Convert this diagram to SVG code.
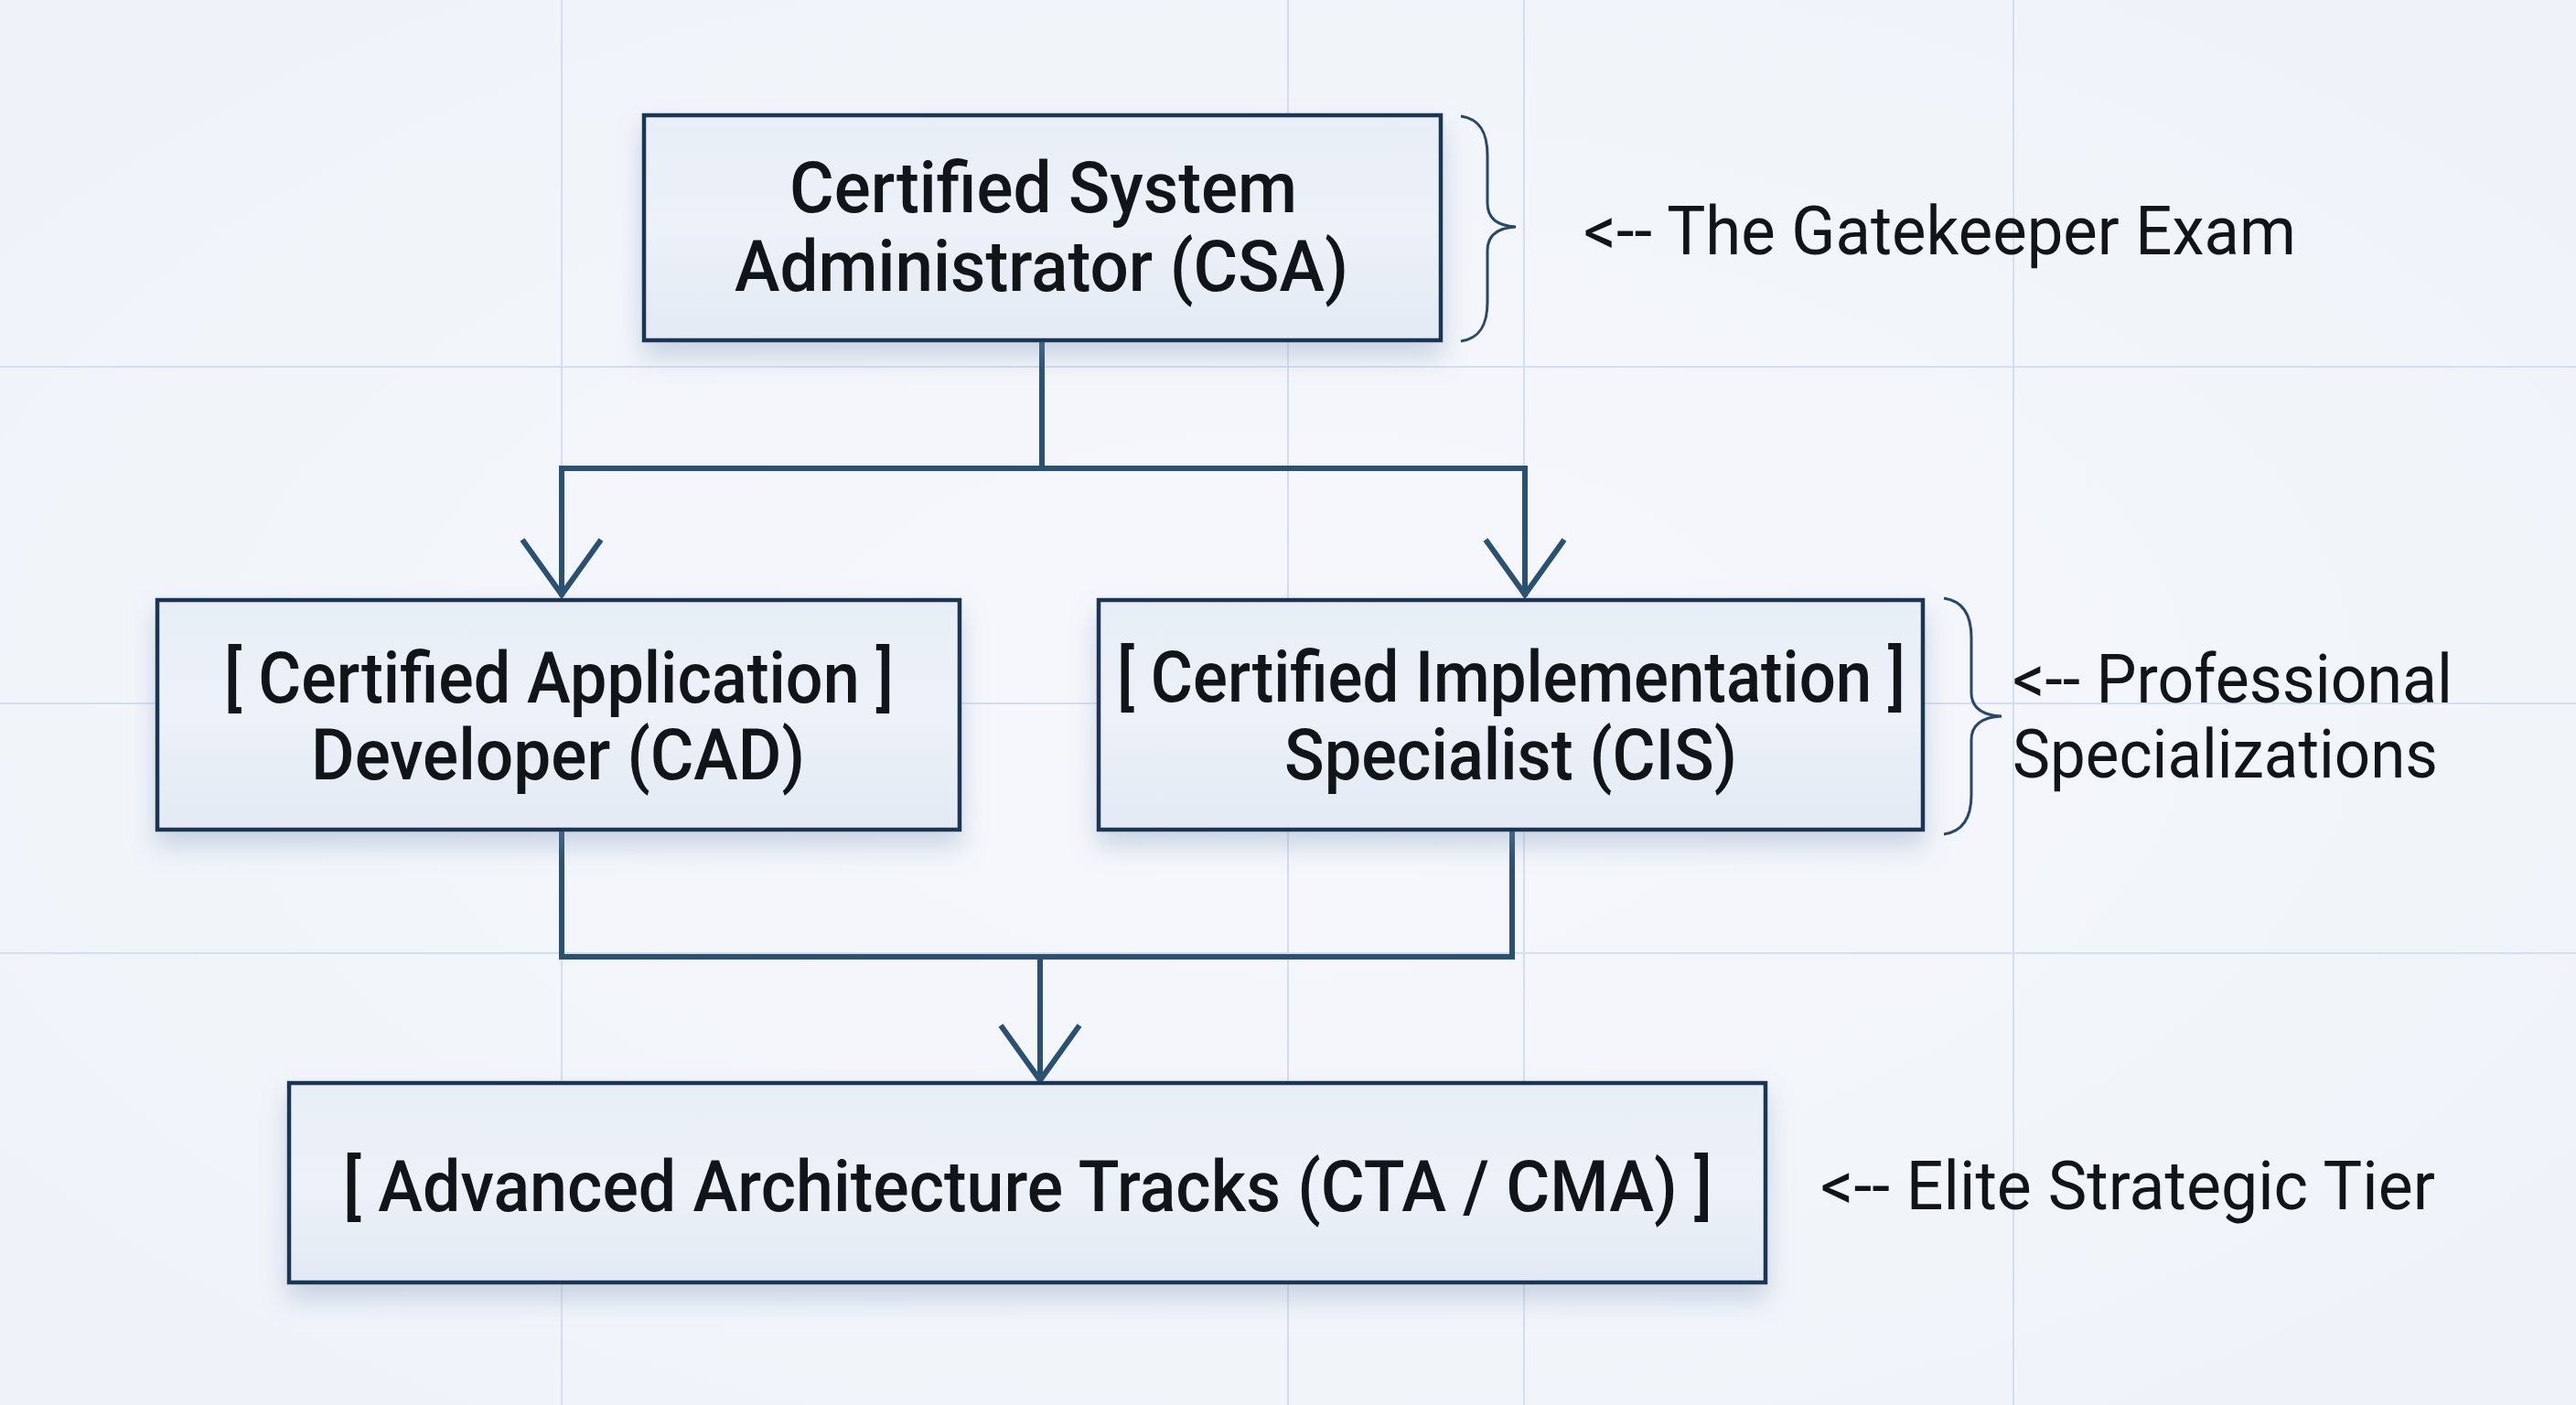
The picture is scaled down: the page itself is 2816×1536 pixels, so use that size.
<svg xmlns="http://www.w3.org/2000/svg" width="2816" height="1536" viewBox="0 0 2816 1536">
<defs>
<radialGradient id="bg" cx="50%" cy="50%" r="75%">
<stop offset="0" stop-color="#f6f8fc"/>
<stop offset="1" stop-color="#eef2f8"/>
</radialGradient>
<linearGradient id="boxfill" x1="0" y1="0" x2="0" y2="1">
<stop offset="0" stop-color="#e8eef7"/>
<stop offset="0.5" stop-color="#edf1f8"/>
<stop offset="1" stop-color="#e3eaf4"/>
</linearGradient>
<filter id="shadow" x="-10%" y="-20%" width="120%" height="160%">
<feDropShadow dx="0" dy="16" stdDeviation="14" flood-color="#7d93b8" flood-opacity="0.35"/>
</filter>
<marker id="arrow" viewBox="0 0 70 100" refX="66" refY="50" markerWidth="70" markerHeight="100" markerUnits="userSpaceOnUse" orient="auto" overflow="visible">
<polyline points="4,7 64,50 4,93" fill="none" stroke="#2b5070" stroke-width="6" stroke-linejoin="miter"/>
</marker>
<style>
.grid{stroke:#d5deed;stroke-width:2}
.box{fill:url(#boxfill);stroke:#1b3452;stroke-width:4.5;filter:url(#shadow)}
.conn{fill:none;stroke:#2b5070;stroke-width:6;stroke-linejoin:miter}
.brace{fill:none;stroke:#2a4767;stroke-width:3}
.node{font-family:Roboto,"Liberation Sans",sans-serif;font-weight:500;font-size:77px;fill:#111418}
.lbl{font-family:Roboto,"Liberation Sans",sans-serif;font-weight:400;font-size:75px;fill:#111418}
</style>
</defs>
<rect width="2816" height="1536" fill="url(#bg)"/>
<g id="grid">
<line class="grid" x1="614" y1="0" x2="614" y2="1536"/>
<line class="grid" x1="1408" y1="0" x2="1408" y2="1536"/>
<line class="grid" x1="1666" y1="0" x2="1666" y2="1536"/>
<line class="grid" x1="2201" y1="0" x2="2201" y2="1536"/>
<line class="grid" x1="0" y1="401" x2="2816" y2="401"/>
<line class="grid" x1="0" y1="769" x2="2816" y2="769"/>
<line class="grid" x1="0" y1="1042" x2="2816" y2="1042"/>
</g>
<g id="connectors">
<polyline class="conn" points="1139,372 1139,512 614,512 614,652" marker-end="url(#arrow)"/>
<polyline class="conn" points="1139,512 1667,512 1667,652" marker-end="url(#arrow)"/>
<polyline class="conn" points="614,908 614,1046 1137,1046 1137,1183" marker-end="url(#arrow)"/>
<polyline class="conn" points="1653,908 1653,1046 1137,1046"/>
</g>
<g id="csa">
<rect class="box" x="704" y="126" width="871" height="246"/>
<text class="node" x="863" y="232" textLength="555" lengthAdjust="spacingAndGlyphs">Certified System</text>
<text class="node" x="803" y="318" textLength="671" lengthAdjust="spacingAndGlyphs">Administrator (CSA)</text>
</g>
<g id="cad">
<rect class="box" x="172" y="656" width="877" height="251"/>
<text class="node" x="245" y="768" textLength="732" lengthAdjust="spacingAndGlyphs">[ Certified Application ]</text>
<text class="node" x="340" y="852" textLength="540" lengthAdjust="spacingAndGlyphs">Developer (CAD)</text>
</g>
<g id="cis">
<rect class="box" x="1201" y="656" width="901" height="251"/>
<text class="node" x="1221" y="767" textLength="862" lengthAdjust="spacingAndGlyphs">[ Certified Implementation ]</text>
<text class="node" x="1404" y="852" textLength="495" lengthAdjust="spacingAndGlyphs">Specialist (CIS)</text>
</g>
<g id="advanced">
<rect class="box" x="316" y="1184" width="1614" height="218"/>
<text class="node" x="375" y="1324" textLength="1497" lengthAdjust="spacingAndGlyphs">[ Advanced Architecture Tracks (CTA / CMA) ]</text>
</g>
<g id="label-gatekeeper">
<path class="brace" d="M1597,127 C1618,130 1626,145 1626,170 L1626,222 C1626,240 1638,247 1657,248 C1638,249 1626,256 1626,274 L1626,330 C1626,355 1618,370 1597,373"/>
<text class="lbl" x="1731" y="278" textLength="779" lengthAdjust="spacingAndGlyphs">&lt;-- The Gatekeeper Exam</text>
</g>
<g id="label-professional">
<path class="brace" d="M2125,654 C2146,657 2155,672 2155,697 L2155,757 C2155,775 2168,782 2188,783 C2168,784 2155,791 2155,809 L2155,869 C2155,894 2146,909 2125,912"/>
<text class="lbl" x="2200" y="768" textLength="481" lengthAdjust="spacingAndGlyphs">&lt;-- Professional</text>
<text class="lbl" x="2200" y="850" textLength="465" lengthAdjust="spacingAndGlyphs">Specializations</text>
</g>
<g id="label-elite">
<text class="lbl" x="1990" y="1322" textLength="672" lengthAdjust="spacingAndGlyphs">&lt;-- Elite Strategic Tier</text>
</g>
</svg>
